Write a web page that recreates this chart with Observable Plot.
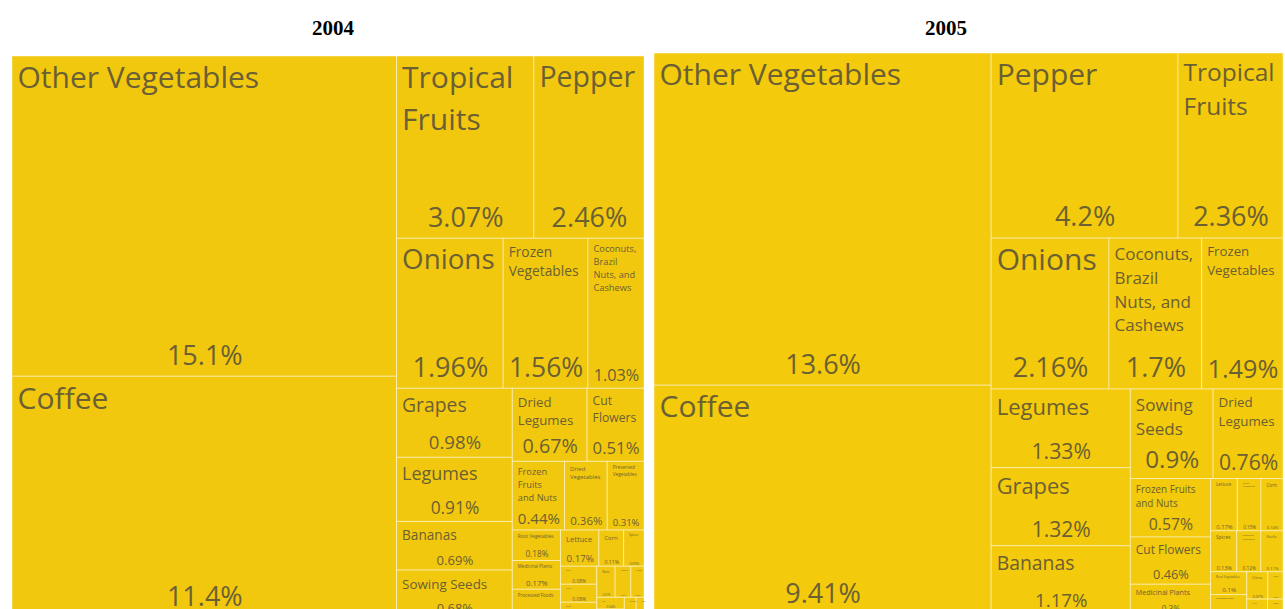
<!DOCTYPE html>
<html><head><meta charset="utf-8">
<script src="https://cdn.jsdelivr.net/npm/d3@7"></script>
<script src="https://cdn.jsdelivr.net/npm/@observablehq/plot@0.6"></script>
<style>
body{margin:0;background:#fff;overflow:hidden;width:1285px;height:609px;position:relative}
.title{position:absolute;font-family:"Liberation Serif","Times New Roman",serif;font-weight:bold;font-size:21px;transform:translateX(-50%);top:16px}
.tree{position:absolute}
.tree svg{display:block;overflow:visible}
</style></head><body>
<div class="title" style="left:333px">2004</div>
<div class="title" style="left:946px">2005</div>
<div id="t2004" class="tree" style="left:12px;top:56px"></div>
<div id="t2005" class="tree" style="left:654px;top:53px"></div>
<script>
const categories2004 = ["Other Vegetables","Coffee","Tropical Fruits","Pepper","Onions","Frozen Vegetables","Coconuts, Brazil Nuts, and Cashews","Grapes","Legumes","Bananas","Sowing Seeds","Dried Legumes","Cut Flowers","Frozen Fruits and Nuts","Dried Vegetables","Preserved Vegetables","Root Vegetables","Medicinal Plants","Processed Foods","Lettuce","Corn","Spices","Garlic","Citrus","Sugar","Nuts","Flowers","Cocoa","Tea","Cotton","Tobacco","Rice"];
const values2004 = [15.1,11.4,3.07,2.46,1.96,1.56,1.03,0.98,0.91,0.69,0.68,0.67,0.51,0.44,0.36,0.31,0.18,0.17,0.17,0.17,0.11,0.09,0.08,0.08,0.07,0.07,0.06,0.05,0.04,0.03,0.03,0.02];
const categories2005 = ["Other Vegetables","Coffee","Pepper","Tropical Fruits","Onions","Coconuts, Brazil Nuts, and Cashews","Frozen Vegetables","Legumes","Grapes","Bananas","Sowing Seeds","Dried Legumes","Frozen Fruits and Nuts","Cut Flowers","Medicinal Plants","Lettuce","Dried Vegetables","Corn","Spices","Preserved Vegetables","Garlic","Root Vegetables","Processed Foods","Citrus","Sugar","Nuts","Cocoa"];
const values2005 = [13.6,9.41,4.2,2.36,2.16,1.7,1.49,1.33,1.32,1.17,0.9,0.76,0.57,0.46,0.30,0.17,0.15,0.14,0.13,0.12,0.11,0.10,0.09,0.07,0.05,0.04,0.03];

const FONT = '"Open Sans"';
const LH = 1.4;
const ctx = document.createElement("canvas").getContext("2d");
function tw(s, size){ ctx.font = `${size}px ${FONT}`; return ctx.measureText(s).width; }
function wrap(text, size, maxW){
  const words = text.split(" "); const lines = []; let cur = "";
  for (const w of words){ const t = cur ? cur + " " + w : w; if (!cur || tw(t,size) <= maxW) cur = t; else { lines.push(cur); cur = w; } }
  lines.push(cur); return lines;
}
const fmt = v => `${+v.toPrecision(3)}%`;

function draw(el, cats, vals, W, H, fill){
  const rows = cats.map((c,i)=>({name:c, value:vals[i]}));
  const root = d3.hierarchy({children: rows}).sum(d => d.value || 0).sort((a,b)=>b.value-a.value);
  d3.treemap().size([W,H]).tile(d3.treemapSquarify.ratio((1+Math.sqrt(5))/2))(root);
  const leaves = root.leaves().map(n => {
    const w = n.x1-n.x0, h = n.y1-n.y0, pad = 5;
    const label = fmt(n.data.value);
    let vs = Math.min(27, h*0.27);
    while (vs > 2 && tw(label, vs) > w - 2*pad) vs -= 0.25;
    let ns = Math.min(30, h*0.28), lines;
    const avail = w - 2*pad - Math.min(4, w*0.05);
    for (;;) {
      lines = wrap(n.data.name, ns, avail);
      const ok = lines.every(l => tw(l, ns) <= avail) && (lines.length*ns*LH + vs*1.3 + 10 <= h);
      if (ok || ns <= 2) break; ns -= 0.25;
    }
    const topPad = Math.min(8, 2 + ns*0.4) - 0.2*ns;
    return {x0:n.x0, x1:n.x1, y0:n.y0, y1:n.y1, name:lines.join("\n"), label, ns, vs,
            nx:n.x0+pad, ny:n.y0+topPad, vx:(n.x0+n.x1)/2, vy:n.y1 - Math.max(2, vs*0.45)};
  });
  const chart = Plot.plot({
    width: W, height: H, margin: 0,
    x: {domain:[0,W], range:[0,W], axis:null},
    y: {domain:[0,H], range:[0,H], axis:null},
    style: {fontFamily: FONT, background:"transparent"},
    marks: [
      Plot.rect(leaves, {x1:"x0", x2:"x1", y1:"y0", y2:"y1", fill, stroke:"#fff", strokeOpacity:0.45, strokeWidth:1}),
      Plot.text(leaves, {x:"nx", y:"ny", text:"name", fontSize:"ns", textAnchor:"start", lineAnchor:"top", lineHeight:LH, fill:"#6b6033"}),
      Plot.text(leaves, {x:"vx", y:"vy", text:"label", fontSize:"vs", textAnchor:"middle", lineAnchor:"bottom", fill:"#6b6033"})
    ]
  });
  el.appendChild(chart);
}
draw(document.getElementById("t2004"), categories2004, values2004, 632, 562, "#F2C80F");
draw(document.getElementById("t2005"), categories2005, values2005, 629, 562, "#F4CA0C");
</script>
</body></html>
